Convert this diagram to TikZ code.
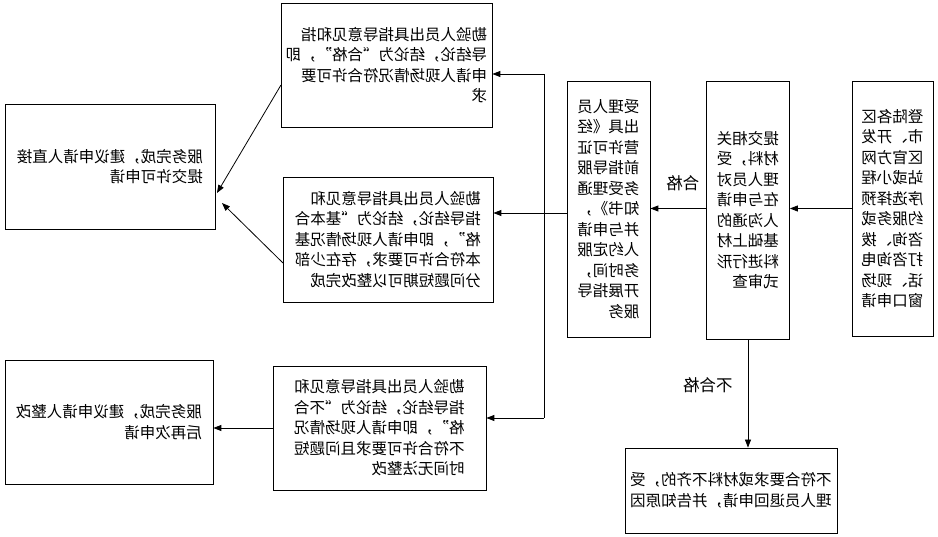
\documentclass[tikz,border=0pt]{standalone}
\usepackage{fontspec}
\setmainfont{Noto Sans CJK SC}
\usetikzlibrary{arrows.meta}

\tikzset{
  box/.style={draw, line width=0.8pt, inner sep=0pt, align=left,
    font=\fontsize{15.5pt}{20.5pt}\selectfont},
  tag/.style={font=\fontsize{16.5pt}{20pt}\selectfont},
  arr/.style={draw, line width=0.8pt, -{Triangle[length=8pt,width=6pt]}}
}

\begin{document}
\begin{tikzpicture}[x=1pt, y=1pt, xscale=-1, transform shape]
        \useasboundingbox (0,0) rectangle (938,537);

        \begin{scope}[every node/.style={box}]
          \node[minimum width=81pt, minimum height=255pt] (A) at (45.5,328.5)
            {登陆各区\\市、开发\\区官方网\\站或小程\\序选择预\\约服务或\\咨询、拨\\打咨询电\\话、现场\\窗口申请};
          \node[minimum width=83pt, minimum height=258pt] (B) at (190,327)
            {提交相关\\材料，受\\理人员对\\在与申请\\人沟通的\\基础上材\\料进行形\\式审查};
          \node[minimum width=83pt, minimum height=256pt] (C) at (329.5,328)
            {受理人员\\出具《经\\营许可证\\前指导服\\务受理通\\知书》，\\并与申请\\人约定服\\务时间，\\开展指导\\服务};
          \node[minimum width=211pt, minimum height=124pt] (D) at (551.5,472)
            {勘验人员出具指导意见和指\\导结论，结论为“合格”，即\\申请人现场情况符合许可要\\求};
          \node[minimum width=210pt, minimum height=125pt] (E) at (550,297.5)
            {勘验人员出具指导意见和\\指导结论，结论为“基本合\\格”，即申请人现场情况基\\本符合许可要求，存在少部\\分问题短期可以整改完成};
          \node[minimum width=213pt, minimum height=124pt] (F) at (558.5,109)
            {勘验人员出具指导意见和\\指导结论，结论为“不合\\格”，即申请人现场情况\\不符合许可要求且问题短\\时间无法整改};
          \node[minimum width=210pt, minimum height=125pt] (G) at (828,370.5)
            {服务完成，建议申请人直接\\提交许可申请};
          \node[minimum width=208pt, minimum height=124pt] (H) at (829,115)
            {服务完成，建议申请人整改\\后再次申请};
          \node[minimum width=212pt, minimum height=85pt] (I) at (207,46.5)
            {不符合要求或材料不齐的，受\\理人员退回申请，并告知原因};
        \end{scope}

        % branch points
        \coordinate (top) at (394,463);
        \coordinate (mid) at (394,324);
        \coordinate (bot) at (394,119);
        \coordinate (d1) at (657,452);
        \coordinate (e1) at (655,274);
        \coordinate (g1) at (721,344);
        \coordinate (g2) at (716,334);

        \node[tag] (ok) at (255,354) {合格};
        \node[tag] (notok) at (230,152) {不合格};

        \draw[line width=0.8pt] (C.east |- mid) -- (mid);
        \draw[line width=0.8pt] (top) -- (bot);

        \begin{scope}[every edge/.style={arr}]
          \path (A.east) edge (A.east -| B.west);
          \path (B.east |- A.east) edge (C.west |- A.east);
          \path (B.south) edge (B.south |- I.north);
          \path (top) edge (top -| D.west);
          \path (mid) edge (mid -| E.west);
          \path (bot) edge (bot -| F.west);
          \path (d1) edge (g1);
          \path (e1) edge (g2);
          \path (F.east) edge (F.east -| H.west);
        \end{scope}

      \end{tikzpicture}
\end{document}
